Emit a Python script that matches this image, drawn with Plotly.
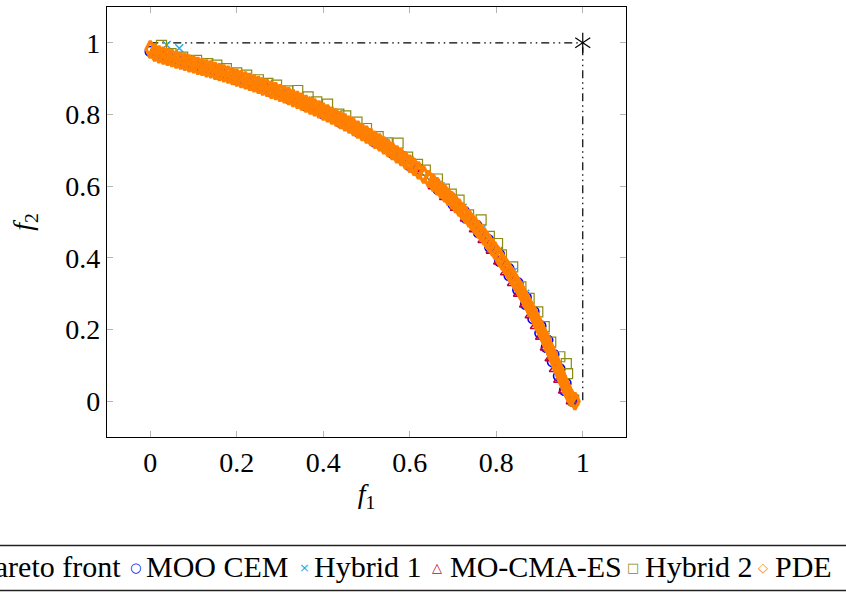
import plotly.graph_objects as go

# ---------------- data ----------------
front_f1 = [0.000, 0.050, 0.100, 0.150, 0.200, 0.250, 0.300, 0.350, 0.400, 0.450, 0.500, 0.550, 0.600, 0.632,
            0.663, 0.706, 0.744, 0.778, 0.808, 0.836, 0.860, 0.883, 0.903, 0.922, 0.940, 0.957, 0.973, 0.982]
front_f2 = [0.982, 0.957, 0.940, 0.922, 0.903, 0.883, 0.860, 0.836, 0.808, 0.778, 0.744, 0.706, 0.663, 0.632,
            0.600, 0.550, 0.500, 0.450, 0.400, 0.350, 0.300, 0.250, 0.200, 0.150, 0.100, 0.050, 0.010, 0.000]

moo_f1 = [0.000, 0.020, 0.040, 0.060, 0.080, 0.100, 0.120, 0.140, 0.160, 0.180, 0.200, 0.220, 0.240, 0.260,
          0.280, 0.300, 0.320, 0.340, 0.360, 0.380, 0.400, 0.420, 0.440, 0.460, 0.480, 0.500, 0.520, 0.540,
          0.560, 0.580, 0.600, 0.620,
          0.658, 0.666, 0.693, 0.700, 0.726, 0.731, 0.755, 0.759, 0.782, 0.785, 0.807, 0.808, 0.829, 0.830,
          0.850, 0.850, 0.869, 0.868, 0.887, 0.885, 0.903, 0.901, 0.919, 0.916, 0.933, 0.930, 0.947, 0.944,
          0.961, 0.958, 0.977, 0.976]
moo_f2 = [0.976, 0.972, 0.955, 0.957, 0.941, 0.944, 0.927, 0.930, 0.912, 0.915, 0.897, 0.899, 0.881, 0.882,
          0.863, 0.864, 0.845, 0.845, 0.824, 0.824, 0.802, 0.801, 0.778, 0.776, 0.752, 0.748, 0.723, 0.718,
          0.692, 0.685, 0.657, 0.648,
          0.610, 0.590, 0.570, 0.550, 0.530, 0.510, 0.490, 0.470, 0.450, 0.430, 0.410, 0.390, 0.370, 0.350,
          0.330, 0.310, 0.290, 0.270, 0.250, 0.230, 0.210, 0.190, 0.170, 0.150, 0.130, 0.110, 0.090, 0.070,
          0.050, 0.030, 0.010, 0.000]

hyb1_f1 = [0.038, 0.067, 0.100, 0.160, 0.220, 0.250, 0.300, 0.360, 0.420, 0.480, 0.540, 0.600,
           0.671, 0.722, 0.766, 0.805, 0.838, 0.867, 0.892, 0.914, 0.934, 0.954, 0.975]
hyb1_f2 = [0.994, 0.985, 0.946, 0.925, 0.902, 0.892, 0.867, 0.838, 0.805, 0.766, 0.722, 0.671,
           0.600, 0.540, 0.480, 0.420, 0.360, 0.300, 0.240, 0.180, 0.120, 0.060, 0.010]

cma_f1 = [0.010, 0.050, 0.090, 0.130, 0.170, 0.210, 0.250, 0.290, 0.330, 0.370, 0.410, 0.450, 0.490, 0.530,
          0.570, 0.610,
          0.656, 0.682, 0.707, 0.730, 0.751, 0.771, 0.790, 0.807, 0.823, 0.839, 0.853, 0.867, 0.880, 0.892,
          0.904, 0.915, 0.926, 0.936, 0.946, 0.957, 0.975]
cma_f2 = [0.966, 0.950, 0.936, 0.922, 0.908, 0.892, 0.876, 0.858, 0.839, 0.818, 0.796, 0.771, 0.744, 0.715,
          0.682, 0.647,
          0.600, 0.570, 0.540, 0.510, 0.480, 0.450, 0.420, 0.390, 0.360, 0.330, 0.300, 0.270, 0.240, 0.210,
          0.180, 0.150, 0.120, 0.090, 0.060, 0.030, 0.000]

hyb2_f1 = [0.026, 0.048, 0.075, 0.107, 0.133, 0.154, 0.176, 0.200, 0.223, 0.250,
           0.272, 0.292, 0.318, 0.341, 0.365, 0.385, 0.410, 0.436, 0.452, 0.478,
           0.500, 0.527, 0.548, 0.573, 0.595, 0.618,
           0.636, 0.664, 0.680, 0.696, 0.714, 0.736, 0.765, 0.784, 0.803, 0.812,
           0.838, 0.857, 0.876, 0.896, 0.911, 0.926, 0.947, 0.962, 0.965, 0.979]
hyb2_f2 = [0.993, 0.970, 0.960, 0.951, 0.942, 0.938, 0.928, 0.916, 0.910, 0.897,
           0.887, 0.882, 0.866, 0.867, 0.849, 0.835, 0.829, 0.801, 0.796, 0.779,
           0.761, 0.738, 0.721, 0.720, 0.681, 0.661,
           0.645, 0.620, 0.592, 0.578, 0.561, 0.520, 0.506, 0.460, 0.440, 0.408,
           0.375, 0.319, 0.287, 0.249, 0.208, 0.165, 0.124, 0.105, 0.077, 0.003]

pde_f1 = [0.000, 0.010, 0.020, 0.030, 0.040, 0.050, 0.060, 0.070, 0.080, 0.090,
          0.100, 0.110, 0.120, 0.130, 0.140, 0.150, 0.160, 0.170, 0.180, 0.190,
          0.200, 0.210, 0.220, 0.230, 0.240, 0.250, 0.260, 0.270, 0.280, 0.290,
          0.300, 0.310, 0.320, 0.330, 0.340, 0.350, 0.360, 0.370, 0.380, 0.390,
          0.400, 0.410, 0.420, 0.430, 0.440, 0.450, 0.460, 0.470, 0.480, 0.490,
          0.500, 0.510, 0.520, 0.530, 0.540, 0.550, 0.560, 0.570, 0.580, 0.590,
          0.600, 0.610, 0.620, 0.632,
          0.644, 0.654, 0.663, 0.672, 0.681, 0.689, 0.698, 0.706, 0.714, 0.722,
          0.729, 0.737, 0.744, 0.751, 0.758, 0.765, 0.772, 0.778, 0.784, 0.791,
          0.797, 0.803, 0.808, 0.814, 0.820, 0.825, 0.830, 0.836, 0.841, 0.846,
          0.851, 0.856, 0.860, 0.865, 0.869, 0.874, 0.878, 0.883, 0.887, 0.891,
          0.895, 0.899, 0.903, 0.907, 0.911, 0.915, 0.918, 0.922, 0.926, 0.929,
          0.933, 0.936, 0.940, 0.943, 0.947, 0.950, 0.953, 0.957, 0.961, 0.964,
          0.968, 0.973, 0.982]
pde_f2 = [0.982, 0.973, 0.968, 0.964, 0.961, 0.957, 0.953, 0.950, 0.947, 0.943,
          0.940, 0.936, 0.933, 0.929, 0.926, 0.922, 0.918, 0.915, 0.911, 0.907,
          0.903, 0.899, 0.895, 0.891, 0.887, 0.883, 0.878, 0.874, 0.869, 0.865,
          0.860, 0.856, 0.851, 0.846, 0.841, 0.836, 0.830, 0.825, 0.820, 0.814,
          0.808, 0.803, 0.797, 0.791, 0.784, 0.778, 0.772, 0.765, 0.758, 0.751,
          0.744, 0.737, 0.729, 0.722, 0.714, 0.706, 0.698, 0.689, 0.681, 0.672,
          0.663, 0.654, 0.644, 0.632,
          0.620, 0.610, 0.600, 0.590, 0.580, 0.570, 0.560, 0.550, 0.540, 0.530,
          0.520, 0.510, 0.500, 0.490, 0.480, 0.470, 0.460, 0.450, 0.440, 0.430,
          0.420, 0.410, 0.400, 0.390, 0.380, 0.370, 0.360, 0.350, 0.340, 0.330,
          0.320, 0.310, 0.300, 0.290, 0.280, 0.270, 0.260, 0.250, 0.240, 0.230,
          0.220, 0.210, 0.200, 0.190, 0.180, 0.170, 0.160, 0.150, 0.140, 0.130,
          0.120, 0.110, 0.100, 0.090, 0.080, 0.070, 0.060, 0.050, 0.040, 0.030,
          0.020, 0.010, 0.000]

ref_f1 = [1.0]
ref_f2 = [1.0]
box_f1 = [0.0, 1.0, 1.0]
box_f2 = [1.0, 1.0, 0.0]

tick_vals = [0, 0.2, 0.4, 0.6, 0.8, 1]
tick_text = ["0", "0.2", "0.4", "0.6", "0.8", "1"]

series_names = ["True Pareto front", "MOO CEM", "Hybrid 1", "MO-CMA-ES", "Hybrid 2", "PDE"]

# ---------------- styling ----------------
SERIF = "Liberation Serif"
C_BLUE = "#0000ff"
C_CYAN = "#27a9e6"
C_PURPLE = "#bf0040"
C_OLIVE = "#8a8a14"
C_ORANGE = "#ff8000"

W, H = 846, 593
L, R, T, B = 107, 626, 7, 437


def px(x):
    return (x - L) / (R - L)


def py(y):
    return (B - y) / (B - T)


fig = go.Figure()

fig.add_trace(go.Scatter(x=box_f1, y=box_f2, mode="lines", showlegend=False,
                         line=dict(color="black", width=1.2, dash="8px,4px,1.5px,4px,1.5px,4px")))

fig.add_trace(go.Scatter(x=front_f1, y=front_f2, mode="lines", name=series_names[0], showlegend=False,
                         line=dict(color="black", width=1)))
fig.add_trace(go.Scatter(x=moo_f1, y=moo_f2, mode="markers", name=series_names[1], showlegend=False,
                         marker=dict(symbol="circle-open", size=10, color=C_BLUE, line=dict(width=1.6))))
fig.add_trace(go.Scatter(x=hyb1_f1, y=hyb1_f2, mode="markers", name=series_names[2], showlegend=False,
                         marker=dict(symbol="x-thin-open", size=8, color=C_CYAN, line=dict(width=1.5, color=C_CYAN))))
fig.add_trace(go.Scatter(x=cma_f1, y=cma_f2, mode="markers", name=series_names[3], showlegend=False,
                         marker=dict(symbol="triangle-up-open", size=10, color=C_PURPLE, line=dict(width=1.5))))
fig.add_trace(go.Scatter(x=hyb2_f1, y=hyb2_f2, mode="markers", name=series_names[4], showlegend=False,
                         marker=dict(symbol="square-open", size=10, color=C_OLIVE, line=dict(width=1.2))))
fig.add_trace(go.Scatter(x=pde_f1, y=pde_f2, mode="markers", name=series_names[5], showlegend=False,
                         marker=dict(symbol="diamond-tall-open", size=12, color=C_ORANGE, line=dict(width=3.2))))

for sym in ["y-up-open", "y-down-open"]:
    fig.add_trace(go.Scatter(x=ref_f1, y=ref_f2, mode="markers", showlegend=False,
                             marker=dict(symbol=sym, size=12.5, color="black",
                                         line=dict(width=1.2, color="black"))))

axis_common = dict(
    showgrid=False, zeroline=False,
    showline=True, linecolor="black", linewidth=1.3, mirror="allticks",
    ticks="inside", ticklen=6, tickwidth=1.3, tickcolor="#b3b3b3",
    tickvals=tick_vals, ticktext=tick_text,
    tickfont=dict(family=SERIF, size=28, color="black"),
)

fig.update_layout(
    width=W, height=H,
    margin=dict(l=L, r=W - R, t=T, b=H - B, autoexpand=False),
    paper_bgcolor="white", plot_bgcolor="white",
    font=dict(family=SERIF, size=28, color="black"),
    showlegend=False,
    xaxis=dict(range=[-0.1, 1.1], **axis_common,
               title=dict(text="<i>f</i><sub>1</sub>", font=dict(family=SERIF, size=28), standoff=6)),
    yaxis=dict(range=[-0.1, 1.1], **axis_common,
               title=dict(text="<i>f</i><sub>2</sub>", font=dict(family=SERIF, size=28), standoff=24)),
)

# ---------------- legend (pgfplots style, horizontal, clipped at left) ----------------
LEG_TOP, LEG_BOT = 545.5, 590.5
for yy in (LEG_TOP, LEG_BOT):
    fig.add_shape(type="line", xref="paper", yref="paper",
                  x0=px(-20), x1=px(850), y0=py(yy), y1=py(yy),
                  line=dict(color="#222222", width=1.4))

LEG_Y = py(566)
LEG_FONT = 30
legend_items = [
    # (symbol, symbol color, symbol x px, text, text left px)
    (None, None, None, series_names[0], None),
    ("○", C_BLUE, 135, series_names[1], 144),
    ("×", C_CYAN, 304, series_names[2], 312),
    ("△", C_PURPLE, 437, series_names[3], 448),
    ("□", C_OLIVE, 633, series_names[4], 643),
    ("◇", C_ORANGE, 763, series_names[5], 773),
]
for sym, col, sx, txt, tx in legend_items:
    if sym is None:
        fig.add_annotation(xref="paper", yref="paper", x=px(123), y=LEG_Y, xanchor="right", yanchor="middle",
                           text=txt, showarrow=False, font=dict(family=SERIF, size=LEG_FONT, color="black"))
        continue
    fig.add_annotation(xref="paper", yref="paper", x=px(sx), y=py(567), xanchor="center", yanchor="middle",
                       text=sym, showarrow=False, font=dict(family="DejaVu Sans", size=13, color=col))
    fig.add_annotation(xref="paper", yref="paper", x=px(tx), y=LEG_Y, xanchor="left", yanchor="middle",
                       text=txt, showarrow=False, font=dict(family=SERIF, size=LEG_FONT, color="black"))

fig.write_html("out.html", config={"displayModeBar": False},
               post_script="document.body.style.margin='0';")
